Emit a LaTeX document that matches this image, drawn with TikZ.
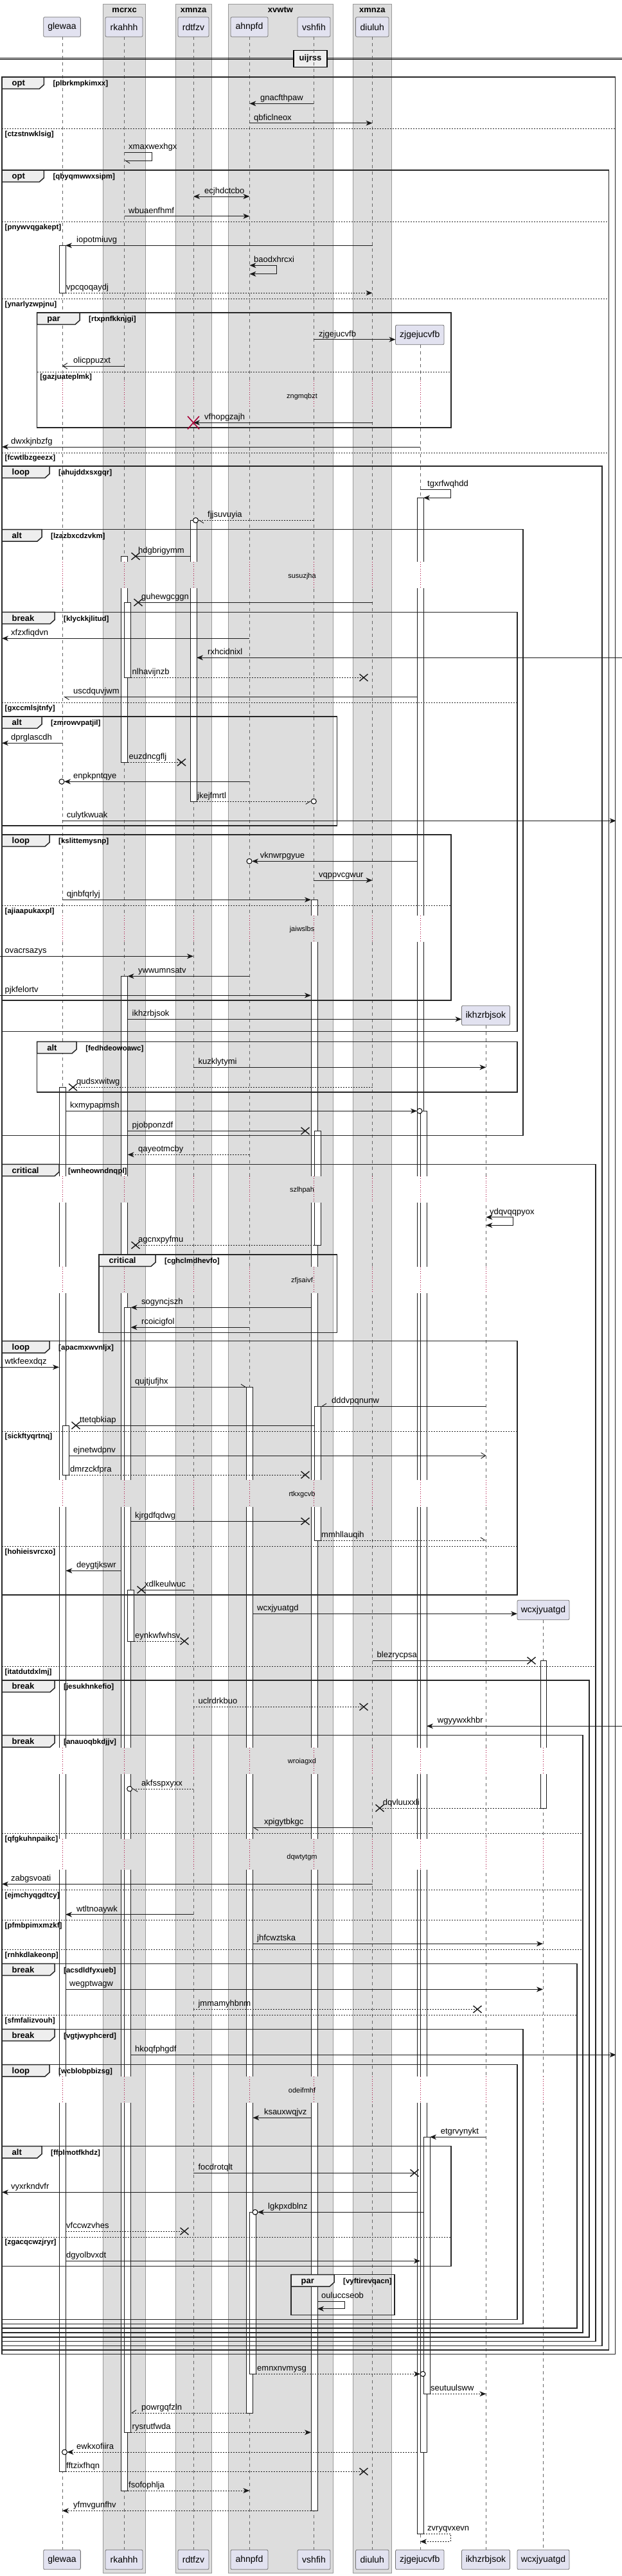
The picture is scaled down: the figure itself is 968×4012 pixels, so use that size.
\documentclass[tikz,border=0pt]{standalone}
\usepackage{fontspec}
\setmainfont{Liberation Sans}
\usetikzlibrary{arrows.meta}
\definecolor{boxg}{RGB}{221,221,221}
\definecolor{tabg}{RGB}{238,238,238}
\definecolor{pfill}{RGB}{226,226,240}
\definecolor{crim}{RGB}{168,0,54}
\newcommand\fs[1]{\fontsize{#1}{#1}\selectfont}
\def\pG{97}\def\pK{193.6}\def\pD{301}\def\pH{388.4}\def\pV{488.3}\def\pU{579.5}\def\pZ{654}\def\pI{756.4}\def\pW{845}
\tikzset{
 msg/.style={draw=black!90,line width=0.9},
 dsh/.style={dash pattern=on 2pt off 2pt},
 ah/.style={-{Stealth[length=10pt,width=8pt,inset=3pt]}},
 ahb/.style={{Stealth[length=10pt,width=8pt,inset=3pt]}-{Stealth[length=10pt,width=8pt,inset=3pt]}},
 aopen/.style={-{Straight Barb[length=7pt,width=9pt]}},
 ahalf/.style={-{Straight Barb[harpoon,length=7pt,width=9pt]}},
 ahalfs/.style={-{Straight Barb[harpoon,swap,length=7pt,width=9pt]}},
 lbl/.style={font=\fs{13},anchor=base west,inner sep=0pt},
 kwst/.style={font=\bfseries\fs{13},anchor=base west,inner sep=0pt},
 cond/.style={font=\bfseries\fs{11.5},anchor=base west,inner sep=0pt},
 hdr/.style={font=\bfseries\fs{13},anchor=base,inner sep=0pt},
 frml/.style={draw=black!85,line width=1.5},
 sepl/.style={draw=black!85,line width=0.9,dash pattern=on 2pt off 2pt},
 boxst/.style={fill=boxg,draw=black!40,line width=0.6},
 lifel/.style={draw=black!60,line width=0.7,dash pattern=on 5pt off 5pt},
 dlyl/.style={draw=crim,line width=0.8,dash pattern=on 1pt off 2.5pt},
 dtxt/.style={font=\fs{11},anchor=base,inner sep=0pt},
 actst/.style={draw=black!90,fill=white,line width=0.9},
 pst/.style={draw=black!55,fill=pfill,line width=0.8,rounded corners=2pt,minimum height=30.5pt,inner sep=0pt,font=\fs{14}},
}
\newcommand\Msg[6]{\draw[msg,#1] (#2,#4) -- (#3,#4); \path (#5,#4) ++(0,-4.5) node[lbl]{#6};}
\newcommand\Xm[2]{\draw[line width=1.4,black!90] (#1,#2) ++(-6.5,-5.5) -- ++(13,11) ++(-13,0) -- ++(13,-11);}
\newcommand\MsgX[6]{\draw[msg,#1] (#2,#4) -- (#3,#4); \Xm{#3}{#4} \path (#5,#4) ++(0,-4.5) node[lbl]{#6};}
\newcommand\Oc[2]{\draw[line width=1,fill=white] (#1,#2) circle[radius=4];}
\newcommand\Act[4]{\draw[actst] (#1,#2) rectangle (#3,#4);}
\newcommand\Frm[7]{%
 \draw[frml] (#1,#2) rectangle (#3,#4);
 \draw[frml,fill=tabg] (#1,#2) -- ++(#6,0) -- ++(0,12) -- ++(-7,6.3) -- ++({7-#6},0) -- cycle;
 \path (#1,#2) ++(15.5,13.8) node[kwst]{#5};
 \path (#1,#2) ++({#6+14},13.8) node[cond]{#7};}
\newcommand\Sepr[4]{\draw[sepl] (#1,#3) -- (#2,#3); \path (#1,#3) ++(4.5,11.7) node[cond]{#4};}
\def\LA{97/white/14,193.6/boxg/17,301/boxg/10,388.4/boxg/13,488.3/boxg/14,579.5/boxg/10,654/white/19}
\def\LB{97/white/14,193.6/boxg/17,301/boxg/10,388.4/boxg/13,488.3/boxg/14,579.5/boxg/10,654/white/19,756.4/white/10}
\def\LC{97/white/14,193.6/boxg/17,301/boxg/10,388.4/boxg/13,488.3/boxg/14,579.5/boxg/10,654/white/19,756.4/white/10,845/white/10}
\newcommand\Dly[5]{%
 \foreach \x/\cc/\ww in #3 {\fill[\cc] ({\x-\ww},#1) rectangle ({\x+\ww},#2); \draw[dlyl] (\x,#1) -- (\x,#2);}
 \node[dtxt] at (470,{#4+3.5}) {#5};}
\begin{document}
\begin{tikzpicture}[x=1pt,y=-1pt]
\useasboundingbox (0,0) rectangle (968,4012);
\fill[white] (0,0) rectangle (968,4012);
% group boxes
\foreach \a/\b/\m/\t in {160.7/226.5/193.6/mcrxc,273/329/301/xmnza,355/518/436.5/xvwtw,549/609/579.3/xmnza}{
 \draw[boxst] (\a,6) rectangle (\b,4007);
 \node[hdr] at (\m,19.5) {\t};}
% title divider
\draw[line width=0.9] (0,90) -- (968,90) (0,92.7) -- (968,92.7);
\node[draw,line width=1.5,fill=tabg,minimum width=52pt,minimum height=26pt,inner sep=0pt,font=\bfseries\fs{13}] (title) at (483,91.3) {uijrss};
% lifelines
\foreach \x in {97,193.6,301,388.4,488.3,579.5} \draw[lifel] (\x,57.3) -- (\x,3971);
\draw[lifel] (\pZ,537.3) -- (\pZ,3971);
\draw[lifel] (\pI,1597.3) -- (\pI,3971);
\draw[lifel] (\pW,2523.3) -- (\pW,3971);
% activations
\Act{92}{382.3}{102}{456.3}
\Act{92}{1693.3}{102}{3849.3}
\Act{97}{2220}{107}{2297}
\Act{188.6}{866.3}{198.6}{1187.3}
\Act{193.6}{938.3}{203.5}{1055.3}
\Act{188.6}{1520.3}{198.6}{3879}
\Act{193.6}{2036.3}{203.5}{3788.3}
\Act{198.6}{2476}{208.5}{2556}
\Act{296}{810.3}{306}{1248}
\Act{383.5}{2160.3}{393.4}{3758}
\Act{388.4}{3445.3}{398.4}{3697.3}
\Act{484}{1401.3}{494}{3910.3}
\Act{489}{1761.3}{499}{1939.3}
\Act{489}{2190.3}{499}{2399}
\Act{649}{775.3}{659}{3946}
\Act{654}{1730.3}{664}{3819}
\Act{659}{3328.3}{669}{3728.3}
\Act{841}{2586.3}{850}{2816}
% delays
\Dly{593.3}{635}{\LA}{616.7}{zngmqbzt}
\Dly{875}{916}{\LA}{896.7}{susuzjha}
\Dly{1426}{1466.7}{\LA}{1447.3}{jaiwslbs}
\Dly{1831.7}{1873.3}{\LB}{1853.3}{szlhpah}
\Dly{1972.7}{2014}{\LB}{1994.3}{zfjsaivf}
\Dly{2305}{2346.7}{\LB}{2327.3}{rtkxgcvb}
\Dly{2722}{2763.3}{\LC}{2743.3}{wroiagxd}
\Dly{2864}{2911.7}{\LC}{2892.3}{dqwtytgm}
\Dly{3234}{3275}{\LC}{3256}{odeifmhf}
% frames
\Frm{3}{120}{957.5}{3666.7}{opt}{65.3}{[plbrkmpkimxx]}
\Frm{3}{265}{947.5}{3660}{opt}{65.3}{[qbyqmwwxsipm]}
\Frm{57.7}{487}{701.8}{666}{par}{66.3}{[rtxpnfkknjgi]}
\Frm{3}{726}{937}{3653.3}{loop}{74}{[ahujddxsxgqr]}
\Frm{3}{824.7}{814}{1768.3}{alt}{62}{[lzazbxcdzvkm]}
\Frm{3}{953.3}{805}{1606.7}{break}{82}{[klyckkjlitud]}
\Frm{3}{1116}{524.5}{1286}{alt}{62}{[zmrowvpatjil]}
\Frm{3}{1300}{701.8}{1558}{loop}{74}{[kslittemysnp]}
\Frm{57.7}{1622.3}{805}{1701}{alt}{61.4}{[fedhdeowoawc]}
\Frm{3}{1813.3}{927}{3646.7}{critical}{89}{[wnheowndnqpl]}
\Frm{154}{1954}{524.5}{2075.3}{critical}{88}{[cghclmdhevfo]}
\Frm{3}{2088.7}{805}{2484}{loop}{74}{[apacmxwvnljx]}
\Frm{3}{2617}{917}{3640}{break}{82}{[jesukhnkefio]}
\Frm{3}{2702.7}{907}{3633}{break}{82}{[anauoqbkdjjv]}
\Frm{3}{3058.3}{898}{3626}{break}{82}{[acsdldfyxueb]}
\Frm{3}{3160.3}{814}{3619.3}{break}{82}{[vgtjwyphcerd]}
\Frm{3}{3215.7}{805}{3612.3}{loop}{74}{[wcblobpbizsg]}
\Frm{3}{3342.7}{701.8}{3529.3}{alt}{62}{[ffplmotfkhdz]}
\Frm{453}{3542.7}{614}{3605.3}{par}{67}{[vyftirevqacn]}
% separators
\Sepr{3}{957.5}{200.3}{[ctzstnwklsig]}
\Sepr{3}{947.5}{345.3}{[pnywvqgakept]}
\Sepr{3}{947.5}{465.3}{[ynarlyzwpjnu]}
\Sepr{3}{947.5}{705}{[fcwtlbzgeezx]}
\Sepr{57.7}{701.8}{579}{[gazjuateplmk]}
\Sepr{3}{805}{1094.3}{[gxccmlsjtnfy]}
\Sepr{3}{701.8}{1410.3}{[ajiaapukaxpl]}
\Sepr{3}{805}{2229}{[sickftyqrtnq]}
\Sepr{3}{805}{2408.3}{[hohieisvrcxo]}
\Sepr{3}{927}{2595.3}{[itatdutdxlmj]}
\Sepr{3}{907}{2855.3}{[qfgkuhnpaikc]}
\Sepr{3}{907}{2943.3}{[ejmchyqgdtcy]}
\Sepr{3}{907}{2990.3}{[pfmbpimxmzkf]}
\Sepr{3}{907}{3036.3}{[rnhkdlakeonp]}
\Sepr{3}{898}{3138.3}{[sfmfalizvouh]}
\Sepr{3}{701.8}{3484}{[zgacqcwzjryr]}
% messages
\Msg{ah}{\pV}{\pH}{161.3}{405}{gnacfthpaw}
\Msg{ah}{\pH}{\pU}{191.7}{395}{qbficlneox}
\draw[msg,ahalf] (\pK,237.3) -- (236,237.3) -- (236,250) -- (\pK,250);
\path (200,237.3) ++(0,-4.5) node[lbl]{xmaxwexhgx};
\Msg{ahb}{\pD}{\pH}{306}{318}{ecjhdctcbo}
\Msg{ah}{\pK}{\pH}{336.7}{200}{wbuaenfhmf}
\Msg{ah}{\pU}{102}{382.3}{119}{iopotmiuvg}
\draw[msg,ahb] (\pH,413.3) -- (430.6,413.3) -- (430.6,426.7) -- (\pH,426.7);
\path (395,413.3) ++(0,-4.5) node[lbl]{baodxhrcxi};
\Msg{ah,dsh}{102}{\pU}{456.3}{103}{vpcqoqaydj}
\Msg{ah}{\pV}{615.5}{528.7}{496}{zjgejucvfb}
\Msg{aopen}{\pK}{\pG}{570}{114}{olicppuzxt}
\Msg{ah}{\pU}{\pD}{658.3}{318}{vfhopgzajh}
\draw[crim,line width=1.6] (\pD,658.3) ++(-9,-10) -- ++(18,20) ++(-18,0) -- ++(18,-20);
\Msg{ah}{\pZ}{3}{696}{17}{dwxkjnbzfg}
\draw[msg,ah] (\pZ,762.3) -- (701,762.3) -- (701,775.3) -- (659,775.3);
\path (665,762.3) ++(0,-4.5) node[lbl]{tgxrfwqhdd};
\Msg{ahalf,dsh}{\pV}{308.5}{810.3}{323}{fjjsuvuyia}
\Oc{304.5}{810.3}
\MsgX{}{296}{211}{866.3}{215}{hdgbrigymm}
\MsgX{}{\pU}{215}{938.3}{220}{guhewgcggn}
\Msg{ah}{\pH}{3}{994.3}{17}{xfzxfiqdvn}
\Msg{ah}{968}{306}{1024.3}{323}{rxhcidnixl}
\MsgX{dsh}{203.5}{566}{1055.3}{205.5}{nlhavijnzb}
\Msg{ahalf}{649}{99}{1085.3}{114}{uscdquvjwm}
\Msg{ah}{\pG}{3}{1157.3}{17}{dprglascdh}
\MsgX{dsh}{198.6}{282.5}{1187.3}{200.5}{euzdncgflj}
\Msg{ah}{\pH}{100}{1217.3}{114}{enpkpntqye}
\Oc{96}{1217.3}
\Msg{ahalfs,dsh}{306}{484.3}{1248}{307}{jkejfmrtl}
\Oc{488.3}{1248}
\Msg{ah}{\pG}{958.7}{1278.3}{103.6}{culytkwuak}
\Msg{ah}{649}{392}{1341.3}{404.6}{vknwrpgyue}
\Oc{388}{1341.3}
\Msg{ah}{\pV}{\pU}{1371}{496}{vqppvcgwur}
\Msg{ah}{\pG}{484}{1401.3}{103.6}{qjnbfqrlyj}
\Msg{ah}{0}{\pD}{1489.3}{7.5}{ovacrsazys}
\Msg{ah}{\pH}{198.6}{1520.3}{215}{ywwumnsatv}
\Msg{ah}{0}{484}{1550.3}{7.5}{pjkfelortv}
\Msg{ah}{198.6}{718.5}{1587.3}{205.5}{ikhzrbjsok}
\Msg{ah}{\pD}{\pI}{1662.3}{308.4}{kuzklytymi}
\MsgX{dsh}{\pU}{113.5}{1693.3}{119}{qudsxwitwg}
\Msg{ah}{102}{649}{1730.3}{109}{kxmypapmsh}
\Oc{653}{1730.3}
\MsgX{}{198.6}{475}{1761.3}{205.5}{pjobponzdf}
\Msg{ah,dsh}{\pH}{198.6}{1798.3}{215}{qayeotmcby}
\draw[msg,ahb] (\pI,1895.7) -- (798.6,1895.7) -- (798.6,1908.3) -- (\pI,1908.3);
\path (762,1895.7) ++(0,-4.5) node[lbl]{ydqvqqpyox};
\MsgX{dsh}{489}{211}{1939.3}{215}{agcnxpyfmu}
\Msg{ah}{484}{203.5}{2036.3}{220}{sogyncjszh}
\Msg{ah}{\pH}{203.5}{2067.3}{220}{rcoicigfol}
\Msg{ah}{0}{92}{2129.3}{7.5}{wtkfeexdqz}
\Msg{ahalf}{203.5}{383.5}{2160.3}{210}{qujtjufjhx}
\Msg{ahalfs}{\pI}{499.5}{2190.3}{516}{dddvpqnunw}
\MsgX{}{489}{118}{2220}{124}{ttetqbkiap}
\Msg{aopen}{107}{\pI}{2267}{114}{ejnetwdpnv}
\MsgX{dsh}{107}{475}{2297}{109}{dmrzckfpra}
\MsgX{}{203.5}{475}{2369.3}{210}{kjrgdfqdwg}
\Msg{ahalf,dsh}{499}{\pI}{2399}{500}{mmhllauqih}
\Msg{ah}{188.6}{102.4}{2446.3}{119}{deygtjkswr}
\MsgX{}{\pD}{220}{2476}{225}{xdlkeulwuc}
\Msg{ah}{393.4}{805}{2513.3}{400}{wcxjyuatgd}
\MsgX{dsh}{208.5}{287}{2556}{210}{eynkwfwhsv}
\MsgX{}{\pU}{827}{2586.3}{586.5}{blezrycpsa}
\MsgX{dsh}{\pD}{566}{2658.3}{308.4}{uclrdrkbuo}
\Msg{ah}{968}{664}{2688.3}{680.7}{wgyywxkhbr}
\Msg{ahalf,dsh}{\pD}{205.7}{2786}{220}{akfsspxyxx}
\Oc{201.7}{2786}
\MsgX{dsh}{841}{591}{2816}{595.7}{dqvluuxxli}
\Msg{ahalf}{\pU}{393.4}{2846.3}{410.8}{xpigytbkgc}
\Msg{ah}{\pU}{3}{2934.3}{17}{zabgsvoati}
\Msg{ah}{\pD}{102}{2981.7}{119}{wtltnoaywk}
\Msg{ah}{393.4}{\pW}{3027.3}{400}{jhfcwztska}
\Msg{ah}{102}{\pW}{3098.3}{108}{wegptwagw}
\MsgX{dsh}{\pD}{743}{3129.3}{308.4}{jmmamyhbnm}
\Msg{ah}{203.5}{958.7}{3200.3}{210}{hkoqfphgdf}
\Msg{ah}{484}{393.4}{3298.3}{410.8}{ksauxwqjvz}
\Msg{ah}{\pI}{669}{3328.3}{685.6}{etgrvynykt}
\MsgX{}{\pD}{645}{3384.3}{308.4}{focdrotqlt}
\Msg{ah}{649}{3}{3414.3}{17}{vyxrkndvfr}
\Msg{ah}{659}{401}{3445.3}{417}{lgkpxdblnz}
\Oc{397}{3445.3}
\MsgX{dsh}{102}{287}{3475}{103}{vfccwzvhes}
\Msg{ah}{102}{654}{3521.3}{103}{dgyolbvxdt}
\draw[msg,ah] (494,3584.3) -- (536,3584.3) -- (536,3595.7) -- (494,3595.7);
\path (500,3584.3) ++(0,-4.5) node[lbl]{ouluccseob};
\Msg{ah,dsh}{398.4}{654}{3697.3}{400}{emnxnvmysg}
\Oc{658}{3697.3}
\Msg{ah,dsh}{669}{\pI}{3728.3}{670}{seutuulsww}
\Msg{ahalfs,dsh}{383.5}{203.5}{3758}{220}{powrgqfzln}
\Msg{ah,dsh}{203.5}{484}{3788.3}{205.5}{rysrutfwda}
\Msg{ah,dsh}{649}{104.5}{3819}{119}{ewkxofiira}
\Oc{100.5}{3819}
\MsgX{dsh}{102}{566}{3849.3}{103}{fftzixfhqn}
\Msg{ah,dsh}{198.6}{\pH}{3879}{200}{fsofophlja}
\Msg{ah,dsh}{484}{\pG}{3910.3}{114}{yfmvgunfhv}
\draw[msg,dsh,ah] (659,3946) -- (701,3946) -- (701,3958.3) -- (\pZ,3958.3);
\path (665,3946) ++(0,-4.5) node[lbl]{zvryqvxevn};
% participants (top)
\node[pst,minimum width=57.7pt] (glewaaT) at (96.5,42) {glewaa};
\node[pst,minimum width=58pt] (rkahhhT) at (193,42) {rkahhh};
\node[pst,minimum width=48pt] (rdtfzvT) at (301,42) {rdtfzv};
\node[pst,minimum width=58pt] (ahnpfdT) at (388,42) {ahnpfd};
\node[pst,minimum width=51pt] (vshfihT) at (488.5,42) {vshfih};
\node[pst,minimum width=51.5pt] (diuluhT) at (579.3,42) {diuluh};
% created participants
\node[pst,minimum width=75.5pt] (zjgT) at (653.3,521.5) {zjgejucvfb};
\node[pst,minimum width=75pt] (ikhT) at (756,1581.5) {ikhzrbjsok};
\node[pst,minimum width=81pt] (wcxT) at (845.5,2507.5) {wcxjyuatgd};
% participants (bottom)
\node[pst,minimum width=57.7pt] (glewaaB) at (96.5,3986.5) {glewaa};
\node[pst,minimum width=58pt] (rkahhhB) at (193,3986.5) {rkahhh};
\node[pst,minimum width=48pt] (rdtfzvB) at (301,3986.5) {rdtfzv};
\node[pst,minimum width=58pt] (ahnpfdB) at (388,3986.5) {ahnpfd};
\node[pst,minimum width=51pt] (vshfihB) at (488.5,3986.5) {vshfih};
\node[pst,minimum width=51.5pt] (diuluhB) at (579.3,3986.5) {diuluh};
\node[pst,minimum width=75.5pt] (zjgB) at (653.3,3986.5) {zjgejucvfb};
\node[pst,minimum width=75pt] (ikhB) at (756,3986.5) {ikhzrbjsok};
\node[pst,minimum width=81pt] (wcxB) at (845.5,3986.5) {wcxjyuatgd};
\end{tikzpicture}
\end{document}
